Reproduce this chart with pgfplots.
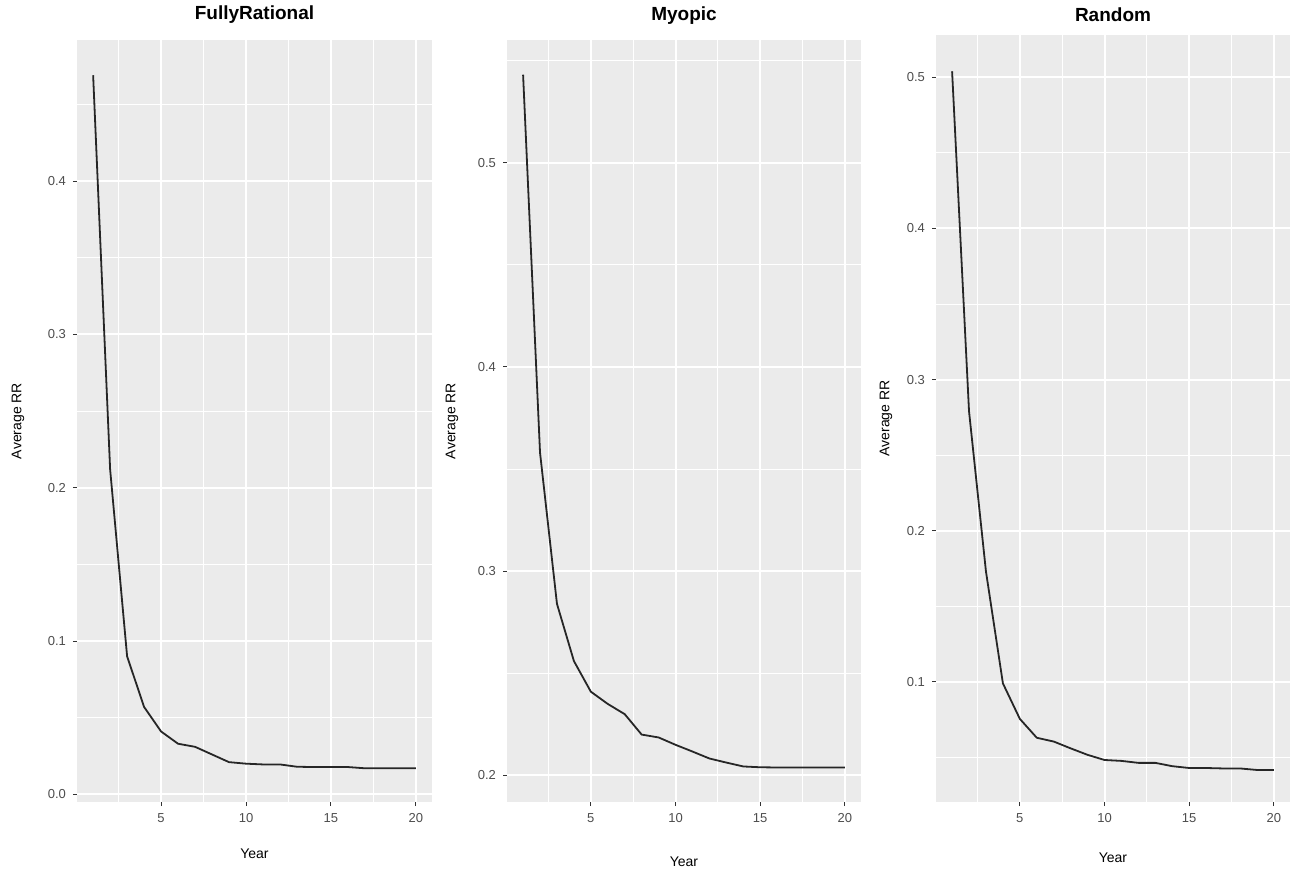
\documentclass[border=0pt]{standalone}
\usepackage{fontspec}
\setmainfont{Liberation Sans}
\usepackage{pgfplots}
\pgfplotsset{compat=1.18}
\definecolor{ggbg}{HTML}{EBEBEB}
\definecolor{ggtick}{HTML}{333333}
\definecolor{ggtext}{HTML}{4D4D4D}
\definecolor{ggline}{HTML}{262626}
\pgfplotsset{ggstyle/.style={
  scale only axis, anchor=south west,
  xmin=0.05, xmax=20.95,
  xtick={5,10,15,20}, minor xtick={2.5,7.5,12.5,17.5},
  grid=both,
  major grid style={white, line width=1pt},
  minor grid style={white, line width=0.5pt},
  axis background/.style={fill=ggbg},
  axis line style={draw=none},
  tick align=outside, tick pos=left,
  major tick length=2pt, minor tick length=0pt,
  tick style={ggtick, line width=0.5pt},
  ticklabel style={font=\fontsize{6.5}{7.5}\selectfont, text=ggtext},
  /pgf/number format/assume math mode=true,
  y tick label style={/pgf/number format/fixed, /pgf/number format/fixed zerofill, /pgf/number format/precision=1},
  scaled y ticks=false,
  xlabel={Year}, ylabel={Average RR},
}}
\begin{document}
\begin{tikzpicture}
\path[use as bounding box] (0,0) rectangle (645.5pt,437.5pt);
% Panel 1
\begin{axis}[ggstyle, at={(38.5pt,36.5pt)}, width=177.5pt, height=381pt,
  ymin=-0.005, ymax=0.492,
  ytick={0,0.1,0.2,0.3,0.4}, minor ytick={0.05,0.15,0.25,0.35,0.45},
  title={FullyRational},
  every axis title/.style={at={(axis description cs:0.5,1)}, anchor=base, yshift=10pt, font=\bfseries\fontsize{9.5}{11}\selectfont},
  every axis x label/.style={at={(axis description cs:0.5,0)}, anchor=center, yshift=-26pt, font=\fontsize{7}{8}\selectfont},
  every axis y label/.style={at={(axis description cs:0,0.5)}, xshift=-29.5pt, rotate=90, anchor=center, font=\fontsize{7}{8}\selectfont},
]
\addplot[ggline, line width=0.9pt, mark=none, line join=round] coordinates {(1,0.469) (2,0.212) (3,0.090) (4,0.057) (5,0.041) (6,0.033) (7,0.031) (8,0.026) (9,0.021) (10,0.020) (11,0.0195) (12,0.0195) (13,0.018) (14,0.0178) (15,0.0178) (16,0.0178) (17,0.017) (18,0.017) (19,0.017) (20,0.017)};
\end{axis}
% Panel 2
\begin{axis}[ggstyle, at={(253.5pt,36.5pt)}, width=177pt, height=381pt,
  ymin=0.187, ymax=0.560,
  ytick={0.2,0.3,0.4,0.5}, minor ytick={0.25,0.35,0.45,0.55},
  title={Myopic},
  every axis title/.style={at={(axis description cs:0.5,1)}, anchor=base, yshift=9.5pt, font=\bfseries\fontsize{9.5}{11}\selectfont},
  every axis x label/.style={at={(axis description cs:0.5,0)}, anchor=center, yshift=-30pt, font=\fontsize{7}{8}\selectfont},
  every axis y label/.style={at={(axis description cs:0,0.5)}, xshift=-27.5pt, rotate=90, anchor=center, font=\fontsize{7}{8}\selectfont},
]
\addplot[ggline, line width=0.9pt, mark=none, line join=round] coordinates {(1,0.543) (2,0.358) (3,0.284) (4,0.256) (5,0.241) (6,0.235) (7,0.230) (8,0.220) (9,0.2186) (10,0.215) (11,0.2117) (12,0.2083) (13,0.2063) (14,0.2044) (15,0.204) (16,0.2039) (17,0.2039) (18,0.2039) (19,0.2039) (20,0.2039)};
\end{axis}
% Panel 3
\begin{axis}[ggstyle, at={(468pt,36.5pt)}, width=177pt, height=383.5pt,
  ymin=0.0205, ymax=0.528,
  ytick={0.1,0.2,0.3,0.4,0.5}, minor ytick={0.05,0.15,0.25,0.35,0.45},
  title={Random},
  every axis title/.style={at={(axis description cs:0.5,1)}, anchor=base, yshift=7pt, font=\bfseries\fontsize{9.5}{11}\selectfont},
  every axis x label/.style={at={(axis description cs:0.5,0)}, anchor=center, yshift=-28pt, font=\fontsize{7}{8}\selectfont},
  every axis y label/.style={at={(axis description cs:0,0.5)}, xshift=-25pt, rotate=90, anchor=center, font=\fontsize{7}{8}\selectfont},
]
\addplot[ggline, line width=0.9pt, mark=none, line join=round] coordinates {(1,0.504) (2,0.279) (3,0.173) (4,0.099) (5,0.0755) (6,0.063) (7,0.0605) (8,0.056) (9,0.0517) (10,0.0483) (11,0.0477) (12,0.0464) (13,0.0464) (14,0.0442) (15,0.043) (16,0.043) (17,0.0427) (18,0.0427) (19,0.0417) (20,0.0417)};
\end{axis}
\end{tikzpicture}
\end{document}
